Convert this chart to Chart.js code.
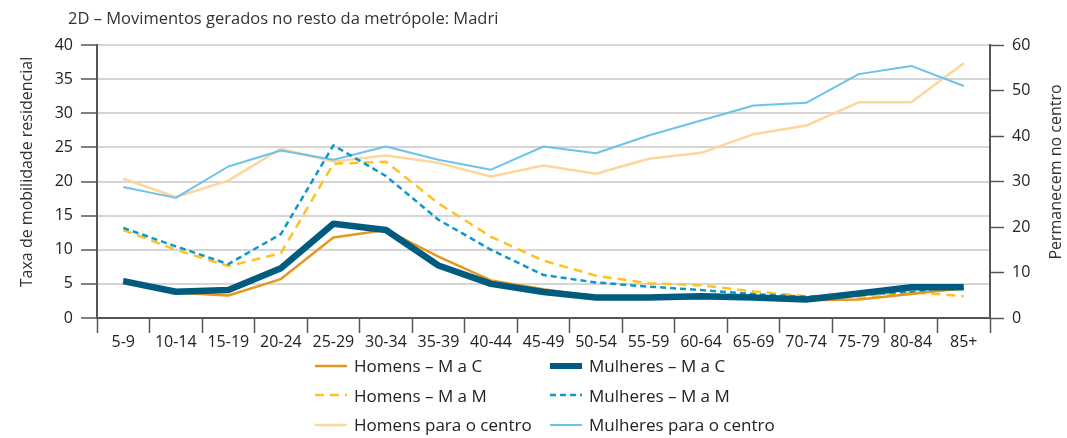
<!DOCTYPE html>
<html>
<head>
<meta charset="utf-8">
<script src="https://cdn.jsdelivr.net/npm/chart.js@4/dist/chart.umd.min.js"></script>
<style>
  body { margin: 0; background: #fff; font-family: "Open Sans", sans-serif; }
  #wrap { position: relative; width: 1067px; height: 438px; }
  #title { position: absolute; left: 68px; top: 6px; font-size: 16.5px; color: #333; white-space: nowrap; }
  #legend { position: absolute; left: 315px; top: 355px; display: grid; grid-template-columns: 235px 260px; row-gap: 8.5px; }
  .item { display: flex; align-items: center; height: 21px; font-size: 17px; color: #222; white-space: nowrap; }
  .item svg { margin-right: 7px; }
</style>
</head>
<body>
<div id="wrap">
  <div id="title">2D – Movimentos gerados no resto da metrópole: Madri</div>
  <canvas id="chart" width="1067" height="438"></canvas>
  <div id="legend"></div>
</div>
<script>
// faixas etárias
const faixas = ["5-9", "10-14", "15-19", "20-24", "25-29", "30-34", "35-39", "40-44", "45-49",
  "50-54", "55-59", "60-64", "65-69", "70-74", "75-79", "80-84", "85+"];

// eixo esquerdo (taxa de mobilidade residencial)
const homensMaC = [5.7, 3.7, 3.3, 5.7, 11.8, 12.9, 9.0, 5.5, 4.2, 3.1, 3.0, 2.9, 2.85, 2.6, 2.7, 3.5, 4.35];
const mulheresMaC = [5.4, 3.85, 4.1, 7.3, 13.8, 12.9, 7.7, 5.0, 3.8, 3.0, 3.0, 3.2, 3.0, 2.7, 3.6, 4.5, 4.5];
const homensMaM = [12.9, 10.0, 7.6, 9.5, 22.6, 22.9, 16.8, 11.9, 8.4, 6.2, 5.1, 4.8, 3.9, 3.2, 3.0, 3.8, 3.2];
const mulheresMaM = [13.2, 10.5, 7.9, 12.3, 25.3, 20.8, 14.4, 10.0, 6.3, 5.2, 4.6, 4.1, 3.5, 3.1, 3.4, 3.85, 4.35];

// eixo direito (permanecem no centro)
const homensCentro = [30.6, 26.6, 30.2, 37.2, 34.4, 35.7, 34.1, 31.1, 33.5, 31.7, 35.0, 36.3, 40.4, 42.3, 47.4, 47.4, 56.0];
const mulheresCentro = [28.8, 26.4, 33.3, 36.8, 34.8, 37.7, 34.8, 32.6, 37.7, 36.2, 40.1, 43.4, 46.7, 47.3, 53.6, 55.4, 51.0];

const tituloEsq = "Taxa de mobilidade residencial";
const tituloDir = "Permanecem no centro";

const datasets = [
  { label: "Homens – M a C", data: homensMaC, borderColor: "#e4981f", borderWidth: 2.5, yAxisID: "y", order: 1 },
  { label: "Mulheres – M a C", data: mulheresMaC, borderColor: "#005b7f", borderWidth: 6.5, yAxisID: "y", order: 0 },
  { label: "Homens – M a M", data: homensMaM, borderColor: "#ffc223", borderWidth: 2.5, borderDash: [9, 6], yAxisID: "y", order: 3 },
  { label: "Mulheres – M a M", data: mulheresMaM, borderColor: "#0a99c9", borderWidth: 2.5, borderDash: [6, 4], yAxisID: "y", order: 2 },
  { label: "Homens para o centro", data: homensCentro, borderColor: "#fdd69c", borderWidth: 2.5, yAxisID: "y1", order: 5 },
  { label: "Mulheres para o centro", data: mulheresCentro, borderColor: "#6cc3ea", borderWidth: 2, yAxisID: "y1", order: 4 },
];
datasets.forEach((d) => {
  d.fill = false;
  d.tension = 0;
  d.pointRadius = 0;
  d.borderJoinStyle = "round";
});

const tickFont = { family: "Open Sans", size: 16 };

// títulos dos eixos (os dois lidos de baixo para cima)
const axisTitles = {
  id: "axisTitles",
  afterDraw(chart) {
    const ctx = chart.ctx;
    ctx.save();
    ctx.font = "16px 'Open Sans'";
    ctx.fillStyle = "#333";
    ctx.textAlign = "center";
    ctx.textBaseline = "middle";
    [[27, tituloEsq], [1056, tituloDir]].forEach(([x, txt]) => {
      ctx.save();
      ctx.translate(x, 172);
      ctx.rotate(-Math.PI / 2);
      ctx.fillText(txt, 0, 0);
      ctx.restore();
    });
    ctx.restore();
  },
};

new Chart(document.getElementById("chart"), {
  type: "line",
  data: { labels: faixas, datasets: datasets },
  options: {
    responsive: false,
    animation: false,
    layout: { padding: { left: 8, right: 0, top: 45, bottom: 80 } },
    plugins: { legend: { display: false }, tooltip: { enabled: false } },
    scales: {
      x: {
        offset: true,
        grid: { offset: true, drawOnChartArea: false, drawTicks: true, tickLength: 15, tickColor: "#555", tickWidth: 1.5 },
        border: { color: "#555", width: 2 },
        ticks: { font: tickFont, color: "#222", padding: 0, maxRotation: 0, autoSkip: false },
        afterFit: (s) => { s.height = 40; },
      },
      y: {
        position: "left",
        min: 0,
        max: 40,
        ticks: { stepSize: 5, font: tickFont, color: "#222", padding: 8 },
        grid: { color: "#d6d6d6", lineWidth: 2, tickLength: 16, tickColor: "#555", tickWidth: 1.5 },
        border: { color: "#555", width: 2 },
        afterFit: (s) => { s.width = 89; },
      },
      y1: {
        position: "right",
        min: 0,
        max: 60,
        ticks: { stepSize: 10, font: tickFont, color: "#222", padding: 8 },
        grid: { drawOnChartArea: false, tickLength: 14, tickColor: "#555", tickWidth: 1.5 },
        border: { color: "#555", width: 2 },
        afterFit: (s) => { s.width = 77; },
      },
    },
  },
  plugins: [axisTitles],
});

// legenda em HTML: duas colunas (homens / mulheres)
const legend = document.getElementById("legend");
[0, 1, 2, 3, 4, 5].forEach((i) => {
  const d = datasets[i];
  const item = document.createElement("div");
  item.className = "item";
  const w = Math.min(d.borderWidth, 6);
  const dash = d.borderDash ? `stroke-dasharray="${d.borderDash.join(" ")}"` : "";
  item.innerHTML = `<svg width="32" height="10"><line x1="0" y1="5" x2="32" y2="5" stroke="${d.borderColor}" stroke-width="${w}" ${dash}/></svg><span>${d.label}</span>`;
  legend.appendChild(item);
});
</script>
</body>
</html>
